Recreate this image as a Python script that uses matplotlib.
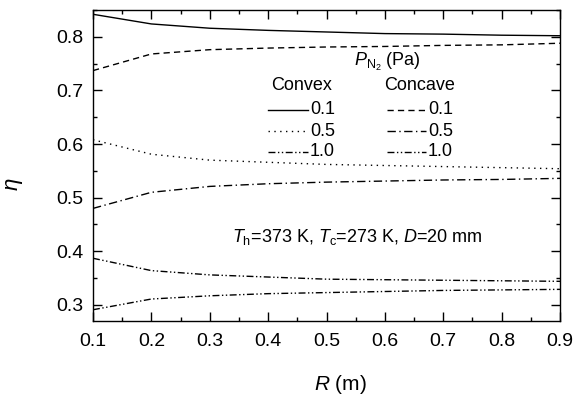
import numpy as np
import matplotlib
matplotlib.use("Agg")
import matplotlib.pyplot as plt
from matplotlib.ticker import MultipleLocator

plt.rcParams['font.family'] = ['Liberation Sans', 'DejaVu Sans']
plt.rcParams['mathtext.fontset'] = 'custom'
plt.rcParams['mathtext.rm'] = 'Liberation Sans'
plt.rcParams['mathtext.it'] = 'Liberation Sans:italic'

# Radius of curvature (m)
R = [0.1, 0.2, 0.3, 0.4, 0.5, 0.6, 0.7, 0.8, 0.9]

# Efficiency for convex and concave surfaces at each N2 pressure (Pa)
convex_01 = [0.842, 0.824, 0.816, 0.812, 0.809, 0.806, 0.805, 0.803, 0.802]
concave_01 = [0.737, 0.768, 0.776, 0.779, 0.781, 0.782, 0.784, 0.785, 0.788]
convex_05 = [0.608, 0.581, 0.570, 0.566, 0.562, 0.560, 0.558, 0.556, 0.554]
concave_05 = [0.480, 0.510, 0.521, 0.526, 0.529, 0.531, 0.533, 0.534, 0.536]
convex_10 = [0.387, 0.364, 0.356, 0.352, 0.348, 0.347, 0.346, 0.345, 0.344]
concave_10 = [0.291, 0.311, 0.317, 0.321, 0.323, 0.325, 0.327, 0.328, 0.329]

pressures = ['0.1', '0.5', '1.0']

styles = {
    'solid': '-',
    'dash': (0, (4.5, 3)),
    'dot': (0, (1, 3.2)),
    'dashdot': (0, (6, 2.5, 1, 2.5)),
    'dashdotdot': (0, (5, 1.8, 1, 1.8, 1, 1.8)),
}
convex_styles = [styles['solid'], styles['dot'], styles['dashdotdot']]
concave_styles = [styles['dash'], styles['dashdot'], styles['dashdotdot']]

fig = plt.figure(figsize=(5.73, 3.98), dpi=100)
ax = fig.add_axes([93 / 573, 1 - 321 / 398, 467 / 573, 311 / 398])

lw = 1.0
for ys, ls in zip([convex_01, convex_05, convex_10], convex_styles):
    ax.plot(R, ys, color='black', lw=lw, linestyle=ls)
for ys, ls in zip([concave_01, concave_05, concave_10], concave_styles):
    ax.plot(R, ys, color='black', lw=lw, linestyle=ls)

ax.set_xlim(0.1, 0.9)
ax.set_ylim(0.27, 0.85)
ax.xaxis.set_major_locator(MultipleLocator(0.1))
ax.xaxis.set_minor_locator(MultipleLocator(0.05))
ax.yaxis.set_major_locator(MultipleLocator(0.1))
ax.yaxis.set_minor_locator(MultipleLocator(0.05))
ax.tick_params(which='both', direction='in', top=True, right=True, labelsize=14)
ax.tick_params(which='major', length=6.5, width=1.0, pad=7)
ax.tick_params(axis='x', which='major', pad=9)
ax.tick_params(which='minor', length=3, width=1.0)
for s in ax.spines.values():
    s.set_linewidth(1.0)

ax.set_xlabel(r'$R$ (m)', fontsize=15)
ax.set_ylabel(r'$\eta$', fontsize=16)
ax.xaxis.set_label_coords(0.53, -0.168)
ax.yaxis.set_label_coords(-0.145, 0.44)

# hand-made legend in axes coordinates
def fx(px):
    return (px - 93) / 467

def fy(py):
    return (321 - py) / 311

ax.text(fx(387), fy(62), r'$P_{\mathrm{N}_2}$ (Pa)', transform=ax.transAxes,
        ha='center', va='center', fontsize=13)
ax.text(fx(302), fy(86), 'Convex', transform=ax.transAxes, ha='center', va='center', fontsize=13)
ax.text(fx(420), fy(86), 'Concave', transform=ax.transAxes, ha='center', va='center', fontsize=13)
rows = [110, 131, 152]
for py, p, ls_cx, ls_cc in zip(rows, pressures, convex_styles, concave_styles):
    ax.plot([fx(268), fx(308)], [fy(py), fy(py)], transform=ax.transAxes,
            color='black', lw=lw, linestyle=ls_cx)
    ax.text(fx(310), fy(py), p, transform=ax.transAxes, ha='left', va='center', fontsize=13)
    ax.plot([fx(387), fx(426)], [fy(py), fy(py)], transform=ax.transAxes,
            color='black', lw=lw, linestyle=ls_cc)
    ax.text(fx(428), fy(py), p, transform=ax.transAxes, ha='left', va='center', fontsize=13)

ax.text(fx(357), fy(237), r'$T_{\mathrm{h}}$=373 K, $T_{\mathrm{c}}$=273 K, $D$=20 mm',
        transform=ax.transAxes, ha='center', va='center', fontsize=13)

fig.savefig('out.png', dpi=100)
